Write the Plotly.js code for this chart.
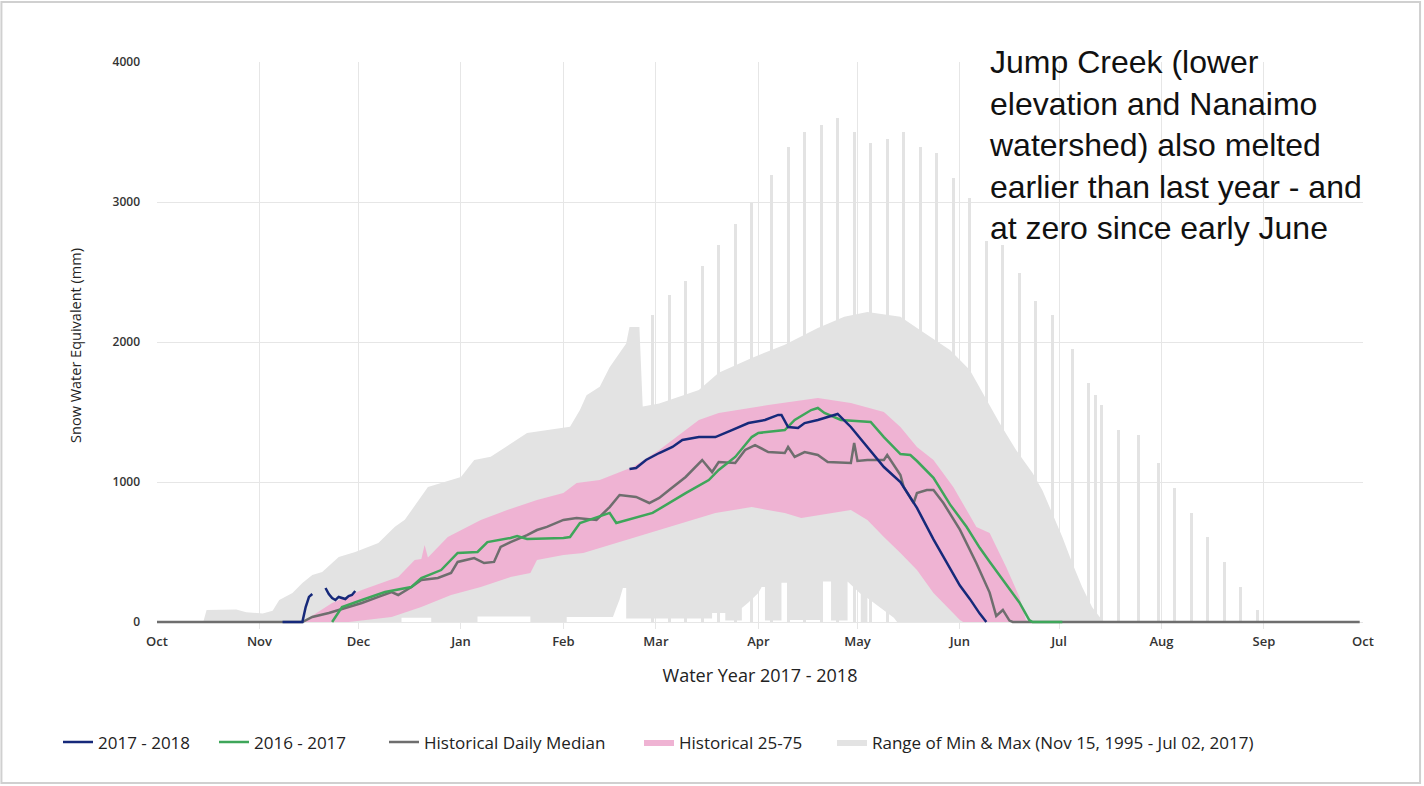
<!DOCTYPE html>
<html>
<head>
<meta charset="utf-8">
<script src="https://cdn.plot.ly/plotly-3.0.1.min.js"></script>
<style>html,body{margin:0;padding:0;background:#fff;}#chart{width:1424px;height:786px;}</style>
</head>
<body>
<div id="chart"></div>
<script>
// ---- Range of Min & Max (grey envelope) ----
var maxDates = ['2017-10-01','2017-10-15','2017-10-16','2017-10-25','2017-10-28','2017-11-02','2017-11-05','2017-11-07','2017-11-11','2017-11-14','2017-11-17','2017-11-20','2017-11-25','2017-11-30','2017-12-07','2017-12-12','2017-12-15','2017-12-22','2018-01-01','2018-01-05','2018-01-10','2018-01-17','2018-01-21','2018-02-03','2018-02-06','2018-02-08','2018-02-12','2018-02-15','2018-02-20','2018-02-21','2018-02-24','2018-02-25','2018-03-02','2018-03-14','2018-03-20','2018-03-30','2018-04-09','2018-04-19','2018-04-27','2018-05-04','2018-05-14','2018-05-19','2018-05-29','2018-06-04','2018-06-08','2018-06-13','2018-06-18','2018-06-23','2018-06-26','2018-06-29','2018-07-02','2018-07-05','2018-07-08','2018-07-11','2018-07-14','2018-07-15','2018-09-30'];
var maxValues = [0,0,86,90,70,60,80,157,207,279,336,357,464,500,564,680,730,964,1036,1157,1180,1286,1350,1395,1514,1620,1680,1820,1990,2107,2107,1540,1560,1657,1780,1886,1980,2100,2180,2214,2180,2100,1943,1800,1636,1421,1229,1064,940,780,607,421,250,107,14,0,0];

var minDates = ['2017-10-01','2017-12-14','2017-12-14','2017-12-23','2017-12-23','2018-01-06','2018-01-06','2018-01-22','2018-01-22','2018-02-02','2018-02-02','2018-02-16','2018-02-17','2018-02-18','2018-02-19','2018-02-20','2018-02-20','2018-03-18','2018-03-18','2018-03-22','2018-03-22','2018-03-27','2018-03-27','2018-03-29','2018-04-01','2018-04-02','2018-04-03','2018-04-03','2018-04-08','2018-04-08','2018-04-10','2018-04-10','2018-04-20','2018-04-20','2018-04-23','2018-04-23','2018-04-28','2018-04-28','2018-05-02','2018-05-02','2018-05-04','2018-05-04','2018-05-12','2018-05-13','2018-09-30'];
var minValues = [0,0,30,30,0,0,40,40,0,0,35,35,100,160,243,243,25,25,64,64,10,10,100,140,207,250,250,10,10,280,280,15,15,290,290,10,10,290,200,0,0,171,30,0,0];

// single-day maximum spikes
var spikeDates = ['2018-02-28','2018-03-05','2018-03-10','2018-03-15','2018-03-20','2018-03-25','2018-03-30','2018-04-05','2018-04-10','2018-04-15','2018-04-20','2018-04-25','2018-04-30','2018-05-05','2018-05-10','2018-05-15','2018-05-20','2018-05-25','2018-05-30','2018-06-04','2018-06-09','2018-06-14','2018-06-19','2018-06-24','2018-06-29','2018-07-05','2018-07-10','2018-07-12','2018-07-14','2018-07-19','2018-07-25','2018-07-31','2018-08-05','2018-08-10','2018-08-15','2018-08-20','2018-08-25','2018-08-30'];
var spikeValues = [2193,2336,2436,2545,2693,2843,2995,3193,3395,3498,3550,3598,3498,3424,3448,3498,3395,3348,3169,3026,2720,2693,2493,2293,2193,1950,1707,1621,1550,1371,1336,1136,957,779,607,429,250,86];

// ---- Historical 25-75 (pink band) ----
var p75Dates = ['2017-11-14','2017-11-23','2017-12-02','2017-12-13','2017-12-18','2017-12-20','2017-12-21','2017-12-22','2017-12-28','2018-01-07','2018-01-15','2018-01-24','2018-02-01','2018-02-05','2018-02-12','2018-02-22','2018-03-02','2018-03-14','2018-03-20','2018-04-04','2018-04-19','2018-04-29','2018-05-09','2018-05-14','2018-05-19','2018-05-24','2018-05-30','2018-06-03','2018-06-06','2018-06-10','2018-06-15','2018-06-19','2018-06-21','2018-06-22'];
var p75Values = [0,136,229,321,443,450,550,460,607,729,800,871,921,993,1014,1107,1229,1443,1493,1550,1600,1564,1500,1393,1250,1157,964,800,679,636,393,179,14,0];

var p25Dates = ['2017-11-14','2017-11-28','2017-12-11','2017-12-20','2017-12-29','2018-01-07','2018-01-16','2018-01-22','2018-01-24','2018-02-01','2018-02-07','2018-02-17','2018-02-27','2018-03-09','2018-03-19','2018-03-30','2018-04-09','2018-04-14','2018-04-24','2018-04-29','2018-05-04','2018-05-09','2018-05-14','2018-05-19','2018-05-24','2018-05-29','2018-06-01','2018-06-02','2018-06-22'];
var p25Values = [0,0,36,107,193,250,321,350,443,479,493,564,636,707,779,821,779,743,779,800,729,607,493,371,207,86,14,0,0];

// ---- Historical Daily Median ----
var medDates = ['2017-10-01','2017-11-14','2017-11-17','2017-11-22','2017-11-27','2017-12-02','2017-12-07','2017-12-11','2017-12-13','2017-12-17','2017-12-20','2017-12-25','2017-12-29','2017-12-31','2018-01-05','2018-01-08','2018-01-11','2018-01-13','2018-01-16','2018-01-21','2018-01-24','2018-01-27','2018-02-01','2018-02-05','2018-02-11','2018-02-15','2018-02-18','2018-02-23','2018-02-27','2018-03-02','2018-03-05','2018-03-10','2018-03-15','2018-03-18','2018-03-20','2018-03-25','2018-03-28','2018-03-31','2018-04-04','2018-04-09','2018-04-10','2018-04-12','2018-04-15','2018-04-19','2018-04-22','2018-04-27','2018-04-29','2018-04-30','2018-05-01','2018-05-04','2018-05-09','2018-05-10','2018-05-14','2018-05-15','2018-05-18','2018-05-19','2018-05-22','2018-05-24','2018-05-27','2018-06-01','2018-06-06','2018-06-10','2018-06-12','2018-06-14','2018-06-16','2018-06-17','2018-09-30'];
var medValues = [0,0,36,64,100,136,179,214,193,250,300,314,350,429,457,421,429,536,571,621,657,679,729,743,729,821,907,893,850,886,943,1036,1157,1071,1143,1136,1229,1264,1214,1207,1250,1179,1214,1193,1143,1136,1136,1279,1150,1157,1157,1193,1050,964,850,921,943,943,850,660,420,210,43,86,10,0,0];

// ---- 2016 - 2017 ----
var y1617Dates = ['2017-11-23','2017-11-26','2017-12-02','2017-12-09','2017-12-17','2017-12-20','2017-12-26','2017-12-31','2018-01-06','2018-01-09','2018-01-16','2018-01-18','2018-01-21','2018-02-01','2018-02-03','2018-02-06','2018-02-15','2018-02-17','2018-02-28','2018-03-10','2018-03-17','2018-03-20','2018-03-25','2018-03-30','2018-04-01','2018-04-09','2018-04-12','2018-04-17','2018-04-19','2018-04-21','2018-04-26','2018-05-05','2018-05-09','2018-05-13','2018-05-14','2018-05-17','2018-05-19','2018-05-24','2018-05-29','2018-06-03','2018-06-07','2018-06-10','2018-06-14','2018-06-19','2018-06-22','2018-06-23','2018-07-02'];
var y1617Values = [0,107,157,214,250,314,371,493,500,571,600,614,593,600,607,707,779,707,779,921,1014,1086,1179,1321,1350,1371,1443,1514,1529,1493,1443,1429,1321,1229,1200,1193,1150,1030,840,680,530,430,305,140,14,0,0];

// ---- 2017 - 2018 (gaps where no data) ----
var y1718Dates = ['2017-11-08','2017-11-14','2017-11-15','2017-11-16','2017-11-17','2017-11-19','2017-11-21','2017-11-22','2017-11-23','2017-11-24','2017-11-25','2017-11-26','2017-11-27','2017-11-28','2017-11-29','2017-11-30','2018-01-15','2018-02-21','2018-02-23','2018-02-26','2018-03-02','2018-03-06','2018-03-09','2018-03-14','2018-03-19','2018-03-24','2018-03-29','2018-04-03','2018-04-07','2018-04-08','2018-04-10','2018-04-13','2018-04-15','2018-04-19','2018-04-24','2018-04-25','2018-04-29','2018-05-04','2018-05-09','2018-05-14','2018-05-19','2018-05-24','2018-05-28','2018-06-01','2018-06-04','2018-06-07','2018-06-09'];
var y1718Values = [0,0,107,179,200,null,243,200,171,157,179,170,164,185,193,221,null,1093,1100,1157,1207,1250,1300,1321,1321,1371,1421,1443,1479,1479,1393,1386,1421,1443,1479,1486,1393,1250,1107,1000,815,590,430,260,165,60,0];

var GREY = '#e3e3e3', PINK = '#efb3d3';
var DAY = 86400000;
var FONT = 'Open Sans, sans-serif';

var traces = [
  {x:minDates, y:minValues, type:'scatter', mode:'lines', line:{width:0, color:GREY}, showlegend:false, hoverinfo:'skip'},
  {x:maxDates, y:maxValues, type:'scatter', mode:'lines', line:{width:0, color:GREY}, fill:'tonexty', fillcolor:GREY,
   name:'Range of Min & Max (Nov 15, 1995 - Jul 02, 2017)', legend:'legend5', hoverinfo:'skip'},
  {x:spikeDates, y:spikeValues, type:'bar', width:0.9*DAY, marker:{color:GREY, line:{width:0}}, showlegend:false, hoverinfo:'skip'},
  {x:p25Dates, y:p25Values, type:'scatter', mode:'lines', line:{width:0, color:PINK}, showlegend:false, hoverinfo:'skip'},
  {x:p75Dates, y:p75Values, type:'scatter', mode:'lines', line:{width:0, color:PINK}, fill:'tonexty', fillcolor:PINK,
   name:'Historical 25-75', legend:'legend4', hoverinfo:'skip'},
  {x:medDates, y:medValues, type:'scatter', mode:'lines', line:{width:2.5, color:'#6e6e6e'}, name:'Historical Daily Median', legend:'legend3'},
  {x:y1617Dates, y:y1617Values, type:'scatter', mode:'lines', line:{width:2.5, color:'#3ea65a'}, name:'2016 - 2017', legend:'legend2'},
  {x:y1718Dates, y:y1718Values, type:'scatter', mode:'lines', line:{width:2.5, color:'#16297a'}, name:'2017 - 2018', legend:'legend', connectgaps:false}
];

function legendAt(px) {
  return {orientation:'h', x:(px - 157) / 1206, xanchor:'left', y:-0.2, yanchor:'middle',
          font:{family:FONT, size:17, color:'#222'}, bgcolor:'rgba(0,0,0,0)', traceorder:'normal'};
}

var layout = {
  width:1424, height:786,
  margin:{l:157, r:61, t:62, b:157},
  paper_bgcolor:'#ffffff', plot_bgcolor:'#ffffff',
  font:{family:FONT, color:'#222'},
  showlegend:true,
  bargap:0,
  xaxis:{type:'date', range:['2017-10-01','2018-10-01'], tick0:'2017-10-01', dtick:'M1', tickformat:'%b',
    showgrid:true, gridcolor:'#e6e6e6', gridwidth:1, zeroline:false, showline:false, ticks:'',
    tickfont:{family:FONT, size:13, color:'#333', weight:600}, ticklabelstandoff:3,
    title:{text:'Water Year 2017 - 2018', font:{family:FONT, size:18, color:'#222'}, standoff:20}},
  yaxis:{range:[-50,4000], tick0:0, dtick:1000, showgrid:true, gridcolor:'#e6e6e6', gridwidth:1, zeroline:false, showline:false, ticks:'',
    tickfont:{family:FONT, size:12, color:'#333', weight:600}, ticklabelstandoff:16,
    title:{text:'Snow Water Equivalent (mm)', font:{family:FONT, size:14.5, color:'#222'}, standoff:27}},
  legend:legendAt(58),
  legend2:legendAt(214),
  legend3:legendAt(384),
  legend4:legendAt(639),
  legend5:legendAt(832),
  annotations:[{xref:'paper', yref:'paper', x:0.688, y:1.035, xanchor:'left', yanchor:'top', align:'left', showarrow:false,
    text:'Jump Creek (lower<br>elevation and Nanaimo<br>watershed) also melted<br>earlier than last year - and<br>at zero since early June',
    font:{family:'Liberation Sans, Arial, sans-serif', size:32, color:'#111'}}],
  shapes:[{type:'rect', xref:'paper', yref:'paper', x0:-0.129, x1:1.0473, y0:-0.2716, y1:1.1058, line:{color:'#d0d0d0', width:2}, fillcolor:'rgba(0,0,0,0)', layer:'above'}]
};

Plotly.newPlot('chart', traces, layout, {displayModeBar:false, staticPlot:true});
</script>
</body>
</html>
